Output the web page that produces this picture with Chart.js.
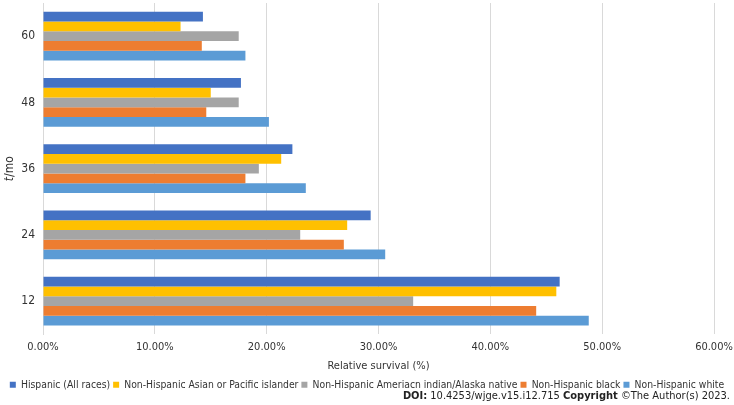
<!DOCTYPE html>
<html>
<head>
<meta charset="utf-8">
<script src="https://cdn.jsdelivr.net/npm/chart.js@4.4.1/dist/chart.umd.min.js"></script>
<style>
  html, body { margin: 0; padding: 0; background: #fff; }
  #wrap { position: relative; width: 734px; height: 405px; }
  #doi {
    position: absolute; right: 4px; top: 389px;
    font: 11px "DejaVu Sans Condensed", "DejaVu Sans", sans-serif; color: #222;
  }
</style>
</head>
<body>
<div id="wrap">
  <canvas id="myChart" width="734" height="405"></canvas>
  <div id="doi"><b>DOI:</b> 10.4253/wjge.v15.i12.715 <b>Copyright</b> ©The Author(s) 2023.</div>
</div>
<script>
const months = ['60', '48', '36', '24', '12'];

const hispanic = [14.3, 17.7, 22.3, 29.3, 46.2];
const asianPacific = [12.3, 15.0, 21.3, 27.2, 45.9];
const amerIndian = [17.5, 17.5, 19.3, 23.0, 33.1];
const black = [14.2, 14.6, 18.1, 26.9, 44.1];
const white = [18.1, 20.2, 23.5, 30.6, 48.8];

const seriesNames = [
    'Hispanic (All races)',
    'Non-Hispanic Asian or Pacific islander',
    'Non-Hispanic Ameriacn indian/Alaska native',
    'Non-Hispanic black',
    'Non-Hispanic white'
];
const seriesData = [hispanic, asianPacific, amerIndian, black, white];
const seriesColors = ['#4472C4', '#FFC000', '#A5A5A5', '#ED7D31', '#5B9BD5'];

const fontFamily = '"DejaVu Sans Condensed", "DejaVu Sans", sans-serif';
const font = { family: fontFamily, size: 11 };

// y axis title "t/mo" with an italic t, drawn in the space the hidden title keeps
const yTitlePlugin = {
    id: 'yTitle',
    afterDraw(chart) {
        const ctx = chart.ctx;
        const area = chart.chartArea;
        const cy = (area.top + area.bottom) / 2;
        ctx.save();
        ctx.translate(10, cy);
        ctx.rotate(-Math.PI / 2);
        ctx.fillStyle = '#333';
        ctx.textBaseline = 'middle';
        ctx.font = 'italic 12px ' + fontFamily;
        const tW = ctx.measureText('t').width;
        ctx.font = '12px ' + fontFamily;
        const restW = ctx.measureText('/mo').width;
        const x0 = -(tW + restW) / 2;
        ctx.font = 'italic 12px ' + fontFamily;
        ctx.fillText('t', x0, 0);
        ctx.font = '12px ' + fontFamily;
        ctx.fillText('/mo', x0 + tW, 0);
        ctx.restore();
    }
};

const canvas = document.getElementById('myChart');

const config = {
    type: 'bar',
    data: {
        labels: months,
        datasets: seriesNames.map((name, i) => ({
            label: name,
            data: seriesData[i],
            backgroundColor: seriesColors[i],
            borderWidth: 0,
            categoryPercentage: 0.735,
            barPercentage: 1.0
        }))
    },
    options: {
        indexAxis: 'y',
        responsive: false,
        animation: false,
        layout: {
            padding: { left: 0, right: 0, top: 3, bottom: 5 }
        },
        scales: {
            x: {
                min: 0,
                max: 60,
                ticks: {
                    stepSize: 10,
                    color: '#333',
                    font: font,
                    padding: 6,
                    callback: v => v.toFixed(2) + '%'
                },
                grid: { color: '#d9d9d9', drawTicks: false },
                border: { display: false },
                title: {
                    display: true,
                    text: 'Relative survival (%)',
                    color: '#333',
                    font: font,
                    padding: { top: 0, bottom: 4 }
                },
                afterFit: s => { s.paddingLeft = 0; s.paddingRight = 20; }
            },
            y: {
                ticks: { color: '#333', font: { ...font, size: 12 }, padding: 8 },
                grid: { display: false, drawTicks: false },
                border: { display: true, color: '#d9d9d9' },
                title: { display: false },
                afterFit: s => { s.width = 43; s.paddingTop = 0; s.paddingBottom = 0; }
            }
        },
        plugins: {
            legend: {
                position: 'bottom',
                labels: {
                    color: '#333',
                    font: { ...font, size: 10.3 },
                    boxWidth: 6,
                    boxHeight: 6,
                    padding: 3
                }
            },
            tooltip: { enabled: false }
        }
    },
    plugins: [yTitlePlugin]
};

const myChart = new Chart(canvas, config);
</script>
</body>
</html>
